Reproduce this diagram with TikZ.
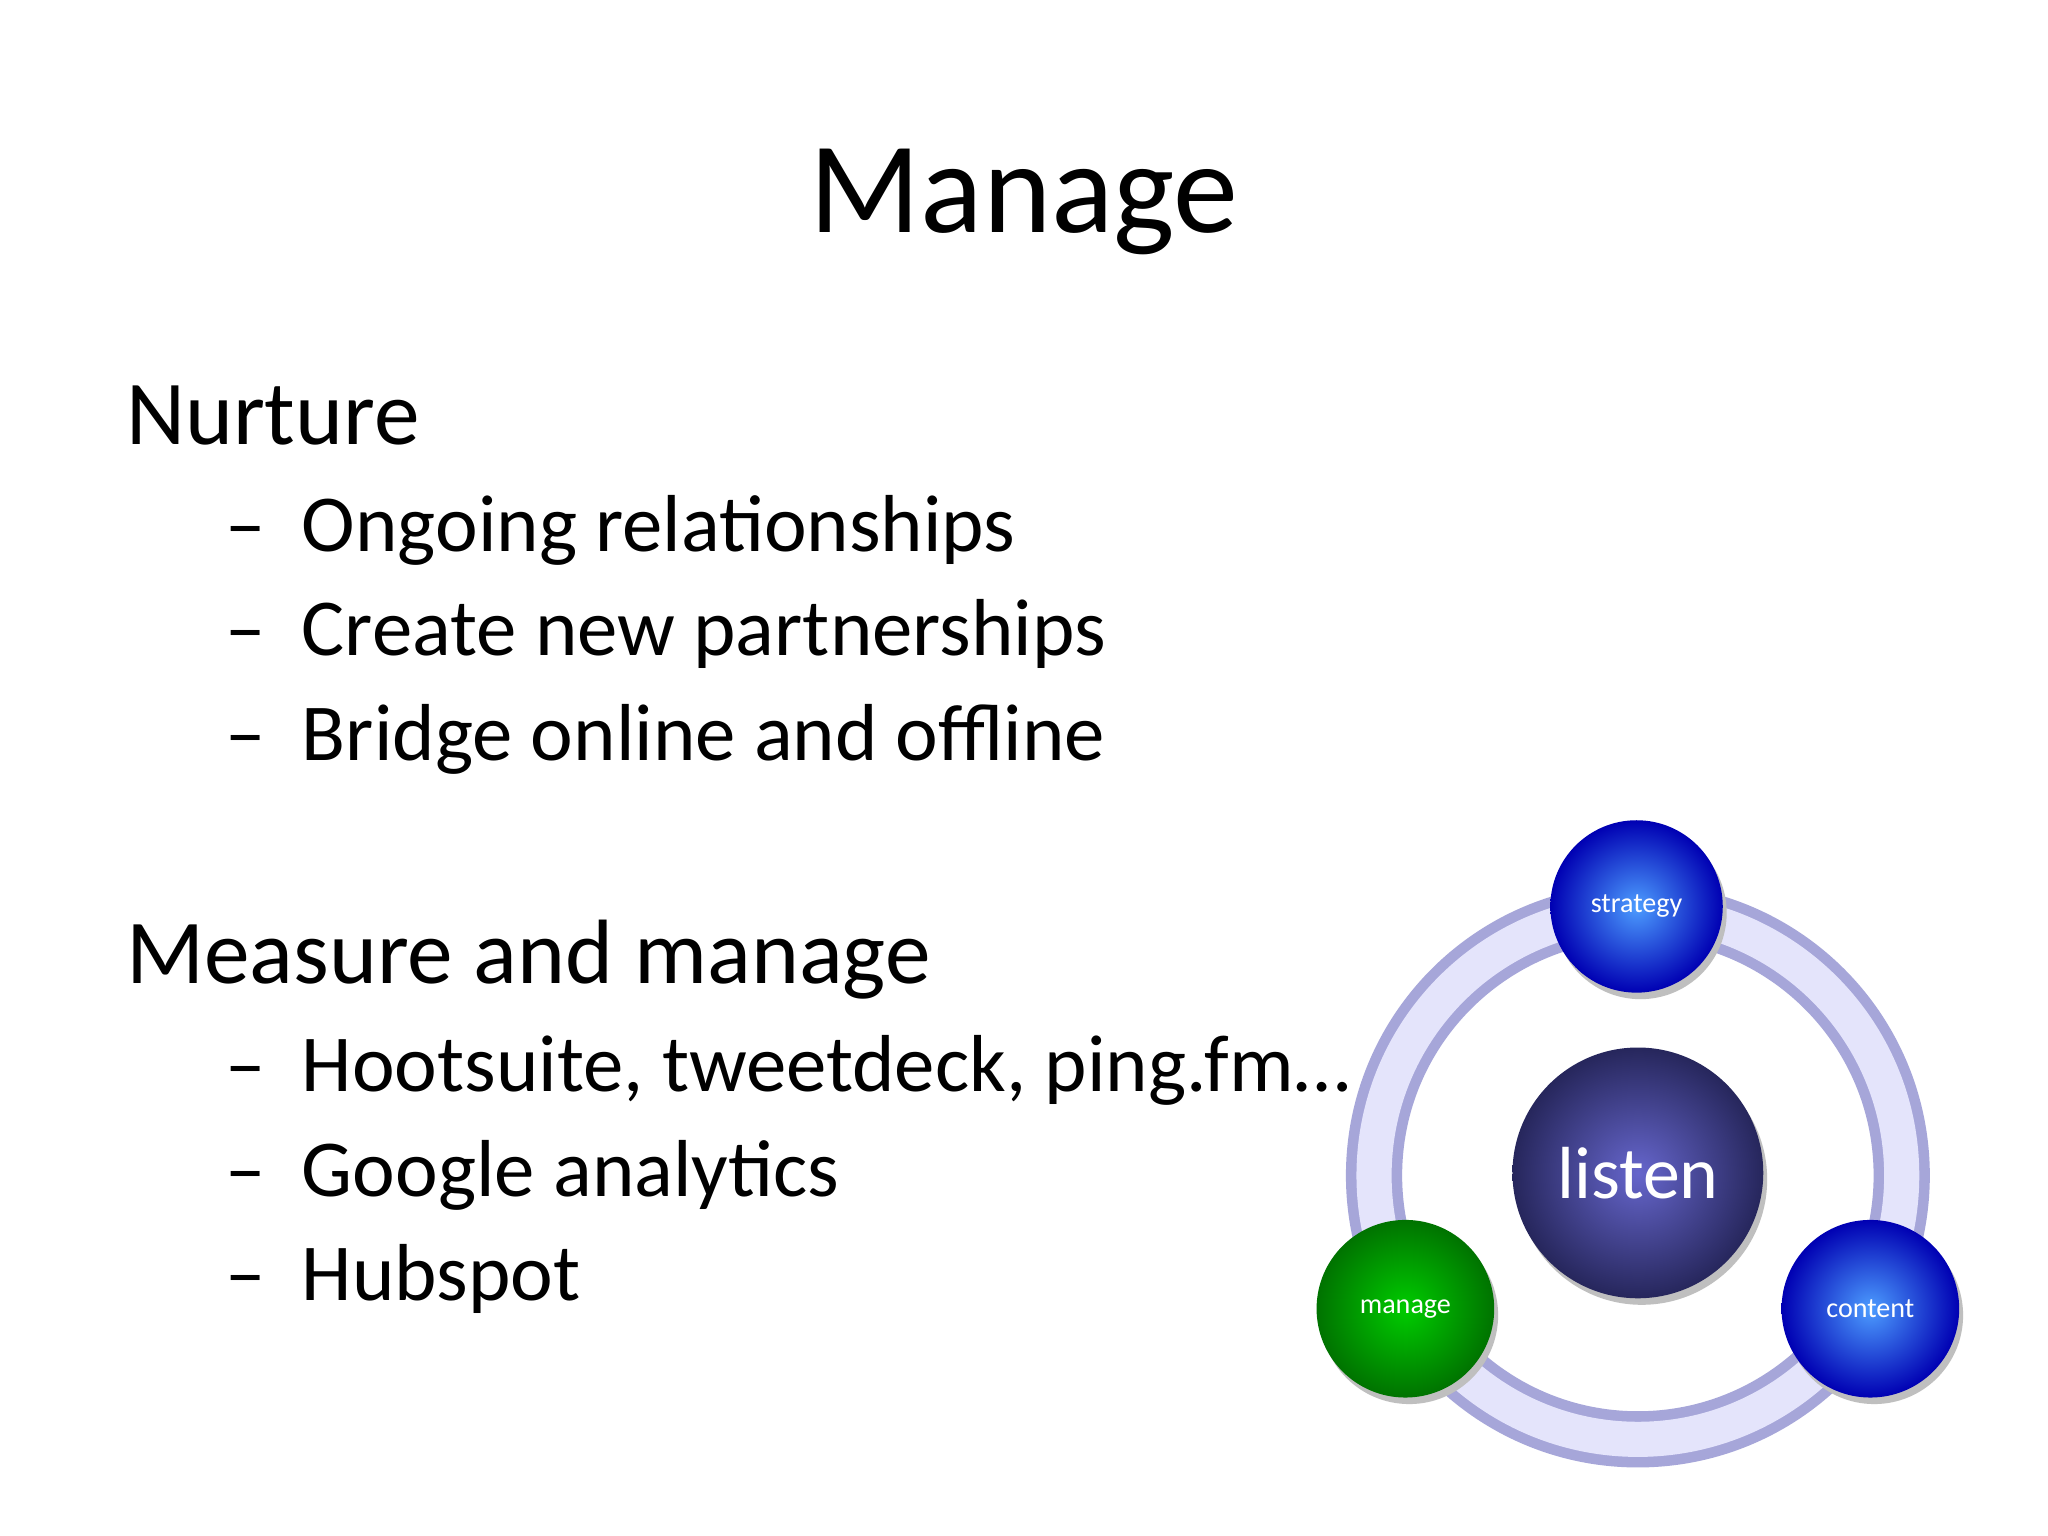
\documentclass[tikz,border=0pt]{standalone}
\usepackage{fontspec}
\setmainfont{Carlito}
\begin{document}
\begin{tikzpicture}[x=0.01306cm,y=-0.01306cm,
  txt/.style={anchor=base west,inner sep=0},
  big/.style={txt,font=\fontsize{26}{30}\selectfont},
  sub/.style={txt,font=\fontsize{23}{27}\selectfont},
]
\useasboundingbox[fill=white] (0,0) rectangle (1568,1176);
\node[anchor=base,inner sep=0,font=\fontsize{37}{40}\selectfont] (title) at (784,178) {Manage};
\node[big] (n) at (96,340) {Nurture};
\node[sub] (n1) at (172,422) {–\hspace{0.45em}Ongoing relationships};
\node[sub] (n2) at (172,502) {–\hspace{0.45em}Create new partnerships};
\node[sub] (n3) at (172,582) {–\hspace{0.45em}Bridge online and offline};
\node[big] (m) at (96,753) {Measure and manage};
\node[sub] (m1) at (172,836) {–\hspace{0.45em}Hootsuite, tweetdeck, ping.fm…};
\node[sub] (m2) at (172,916) {–\hspace{0.45em}Google analytics};
\node[sub] (m3) at (172,996) {–\hspace{0.45em}Hubspot};
% ring
\coordinate (c) at (1254,900);
\draw[line width=16pt,color=gray!60!blue!50] (c) circle (202);
\draw[line width=10pt,color=gray!25!blue!12] (c) circle (202);
\fill[gray!50] (1257,903) circle (96);
\shade[inner color=blue!50!gray!80, outer color=blue!30!black!70!gray] (1254,898) circle (96);
\node[font=\fontsize{21}{24}\selectfont,text=white] (lt) at (1254,898) {listen};
\foreach \n/\x/\y/\r/\t/\ci/\co in {s/1253/694/66/strategy/blue!55!cyan!70/blue!70!black,
  g/1076/1002/68/manage/green!80!black/green!45!black,
  k/1432/1002/68/content/blue!55!cyan!70/blue!70!black}{
  \fill[gray!50] (\x+3,\y+5) circle (\r);
  \shade[inner color=\ci,outer color=\co] (\x,\y) circle (\r);
  \node[font=\fontsize{8}{10}\selectfont,text=white] (\n) at (\x,\y) {\t};
}
\end{tikzpicture}
\end{document}
